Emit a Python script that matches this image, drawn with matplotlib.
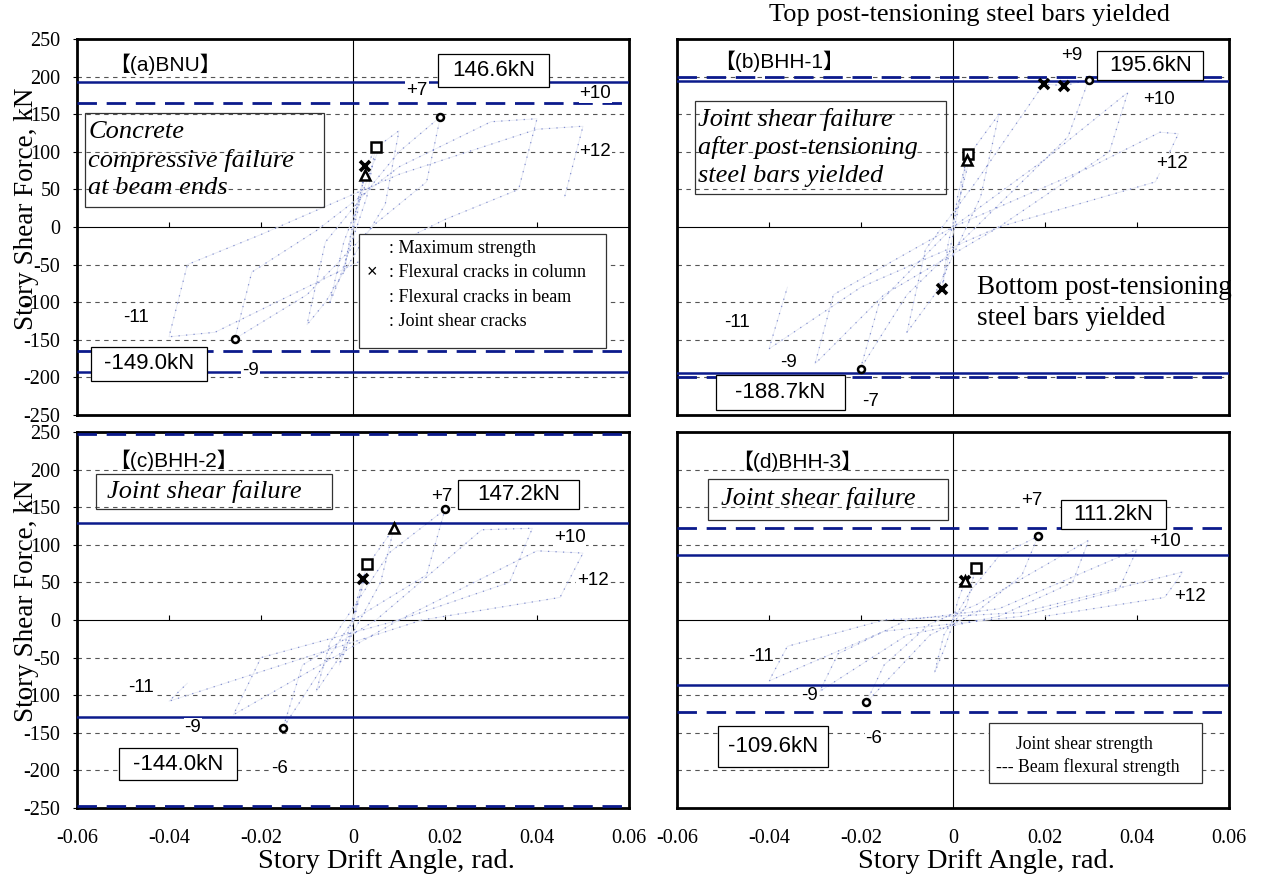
import matplotlib
matplotlib.use("Agg")
import matplotlib.pyplot as plt
from matplotlib.patches import Rectangle

SERIF = ['Liberation Serif', 'DejaVu Serif']
SANS = ['Liberation Sans', 'Noto Sans CJK JP', 'DejaVu Sans']

# ---------------- data ----------------
x_ticks = [-0.06, -0.04, -0.02, 0, 0.02, 0.04, 0.06]
x_tick_labels = ['-0.06', '-0.04', '-0.02', '0', '0.02', '0.04', '0.06']
y_ticks = [-250, -200, -150, -100, -50, 0, 50, 100, 150, 200, 250]
grid_levels = [-200, -150, -100, -50, 50, 100, 150, 200]
inner_ticks = [-0.04, -0.02, 0.02, 0.04]

panel_titles = ['【(a)BNU】', '【(b)BHH-1】', '【(c)BHH-2】', '【(d)BHH-3】']
joint_shear_strength = [193, 194, 129, 86]     # solid lines (+/-)
beam_flexural_strength = [165, 200, 247, 123]  # dashed lines (+/-)

max_pos_drift = [0.019, 0.0295, 0.020, 0.0185]
max_pos_force = [146.6, 195.6, 147.2, 111.2]
max_neg_drift = [-0.0257, -0.0201, -0.0152, -0.0189]
max_neg_force = [-149.0, -188.7, -144.0, -109.6]
max_pos_label = ['146.6kN', '195.6kN', '147.2kN', '111.2kN']
max_neg_label = ['-149.0kN', '-188.7kN', '-144.0kN', '-109.6kN']

col_crack_drift = [[0.0027], [0.0197, 0.0242, -0.0024], [0.0022], [0.0027]]
col_crack_force = [[80.8], [190, 188, -82], [55], [52]]
beam_crack_drift = [0.0049, 0.0032, 0.0030, 0.0049]
beam_crack_force = [106, 97, 74, 69.5]
joint_crack_drift = [0.0025, 0.0030, 0.0089, 0.0027]
joint_crack_force = [68.8, 88.5, 122, 51.8]

# hysteresis paths (story drift angle, story shear force)
drift_a = [0, 0.001, 0.0025, 0.001, -0.001, -0.002, -0.0005, 0.003, 0.0049, 0.003, -0.003, -0.005,
           -0.002, 0.006, 0.010, 0.007, -0.006, -0.010, -0.006, 0.010, 0.019, 0.016, 0.005, -0.010,
           -0.0257, -0.022, -0.008, 0.010, 0.030, 0.040, 0.036, 0.020, -0.010, -0.030, -0.040,
           -0.036, -0.020, 0.010, 0.040, 0.050, 0.046]
force_a = [0, 35, 68.8, 20, -30, -60, -10, 80, 106, 40, -70, -100, -20, 110, 128, 30, -100, -130,
           -20, 100, 146.6, 60, 5, -90, -148.7, -60, -5, 80, 140, 144, 50, 10, -80, -140, -146,
           -50, -10, 70, 130, 134, 40]
drift_b = [0, 0.001, 0.003, 0.001, -0.001, -0.0024, -0.001, 0.004, 0.010, 0.006, -0.004, -0.010,
           -0.006, 0.005, 0.0197, 0.0242, 0.0295, 0.025, 0.005, -0.010, -0.0201, -0.016, 0.000,
           0.020, 0.038, 0.034, 0.010, -0.015, -0.030, -0.026, 0.000, 0.030, 0.045, 0.049, 0.044,
           0.010, -0.020, -0.040, -0.036]
force_b = [0, 40, 92, 20, -40, -82, -20, 100, 150, 40, -90, -140, -30, 60, 190, 188, 195.6, 120,
           0, -90, -188, -100, 0, 90, 179, 100, 0, -90, -182, -90, 0, 80, 126, 124, 60, 0, -80,
           -162, -80]
drift_c = [0, 0.001, 0.0022, 0.003, 0.001, -0.001, -0.003, -0.001, 0.004, 0.0089, 0.006, -0.003,
           -0.008, -0.005, 0.008, 0.020, 0.016, 0.000, -0.0152, -0.011, 0.005, 0.028, 0.039, 0.034,
           0.010, -0.026, -0.020, 0.010, 0.040, 0.050, 0.045, 0.015, -0.040, -0.036]
force_c = [0, 30, 55, 74, 20, -30, -60, -15, 80, 122, 50, -50, -95, -30, 90, 147, 60, 0, -143.4,
           -60, 0, 120, 122, 50, 0, -126, -50, 0, 92, 89, 30, 0, -108, -84]
drift_d = [0, 0.001, 0.0027, 0.0049, 0.003, 0.000, -0.002, -0.004, -0.002, 0.000, 0.004, 0.010,
           0.0185, 0.015, 0.005, -0.005, -0.0189, -0.015, -0.005, 0.005, 0.0295, 0.026, 0.010,
           -0.010, -0.029, -0.025, -0.010, 0.010, 0.040, 0.036, 0.015, -0.015, -0.040, -0.036,
           -0.015, 0.015, 0.050, 0.046, 0.020]
force_d = [0, 25, 52, 69.5, 20, -5, -40, -70, -20, 0, 40, 85, 111.5, 60, 10, -20, -110, -60, -5,
           20, 106, 50, 5, -20, -95, -45, 0, 15, 94, 40, 5, -15, -81, -35, 0, 10, 64, 30, 5]
drifts = [drift_a, drift_b, drift_c, drift_d]
forces = [force_a, force_b, force_c, force_d]

cycle_text = [['+7', '+10', '+12', '-11', '-9'],
              ['+9', '+10', '+12', '-11', '-9', '-7'],
              ['+7', '+10', '+12', '-11', '-9', '-6'],
              ['+7', '+10', '+12', '-11', '-9', '-6']]
cycle_x = [[0.0139, 0.0527, 0.0527, -0.0471, -0.0223],
           [0.0258, 0.0447, 0.0477, -0.0469, -0.0358, -0.018],
           [0.0192, 0.0471, 0.0521, -0.0461, -0.0348, -0.0159],
           [0.0171, 0.0461, 0.0515, -0.0417, -0.0313, -0.0172]]
cycle_y = [[181, 177, 101, -121, -191],
           [228, 169, 84, -127, -180, -232],
           [164, 110, 52, -90, -143, -197],
           [159, 105, 31, -48, -101, -158]]

failure_text = ['Concrete\ncompressive failure\nat beam ends',
                'Joint shear failure\nafter post-tensioning\nsteel bars yielded',
                'Joint shear failure', 'Joint shear failure']

legend_lines = [': Maximum strength', ': Flexural cracks in column',
                ': Flexural cracks in beam', ': Joint shear cracks']
legend2_lines = ['Joint shear strength', '--- Beam flexural strength']

# ---------------- layout ----------------
fig = plt.figure(figsize=(12.62, 8.77), dpi=100)
W, H = 1262, 877
lefts = [77, 677, 77, 677]
tops = [39, 39, 432, 432]
aw, ah = 552, 376
axes = []
for i in range(4):
    ax = fig.add_axes([lefts[i] / W, 1 - (tops[i] + ah) / H, aw / W, ah / H])
    axes.append(ax)

NAVY = '#0b1a8c'
for i, ax in enumerate(axes):
    ax.set_xlim(-0.06, 0.06)
    ax.set_ylim(-250, 250)
    for s in ax.spines.values():
        s.set_linewidth(2.0)
        s.set_color('black')
    ax.set_yticks(y_ticks)
    ax.set_xticks(x_ticks)
    ax.tick_params(axis='x', length=0, pad=15)
    ax.tick_params(axis='y', length=3, width=0.8, direction='out', pad=9)
    if i in (0, 2):
        ax.set_yticklabels([str(v) for v in y_ticks], fontsize=14.5, family=SERIF)
    else:
        ax.set_yticklabels([])
        ax.tick_params(axis='y', length=0)
    if i in (2, 3):
        ax.set_xticklabels(x_tick_labels, fontsize=14.5, family=SERIF)
    else:
        ax.set_xticklabels([])

    for g in grid_levels:
        ax.axhline(g, color='#555555', lw=0.8, ls=(0, (4, 4)), zorder=1)
    ax.axhline(0, color='black', lw=0.8, zorder=2)
    ax.axvline(0, color='black', lw=0.8, zorder=2)
    ax.vlines(inner_ticks, 0, 6, color='black', lw=0.8, zorder=2)

    # hysteresis (faint, dotted)
    ax.plot(drifts[i], forces[i], color='#e6e9f4', lw=0.6, zorder=2)
    ax.plot(drifts[i], forces[i], color='#2a3fb0', lw=0.9, ls=(0, (1, 5)), alpha=0.55, zorder=2)

    # strength lines
    js, bf = joint_shear_strength[i], beam_flexural_strength[i]
    ax.axhline(js, color=NAVY, lw=1.8, zorder=3)
    ax.axhline(-js, color=NAVY, lw=1.8, zorder=3)
    ax.axhline(bf, color=NAVY, lw=2.0, ls=(0, (7, 3.5)), zorder=3)
    ax.axhline(-bf, color=NAVY, lw=2.0, ls=(0, (7, 3.5)), zorder=3)

    # markers
    ax.plot([max_pos_drift[i], max_neg_drift[i]], [max_pos_force[i], max_neg_force[i]],
            ls='none', marker='o', ms=5, mfc='white', mec='black', mew=1.8, zorder=6)
    ax.plot(col_crack_drift[i], col_crack_force[i], ls='none', marker='x', ms=7,
            mec='black', mew=2.6, zorder=6)
    ax.plot([beam_crack_drift[i]], [beam_crack_force[i]], ls='none', marker='s', ms=7,
            mfc='white', mec='black', mew=1.8, zorder=6)
    ax.plot([joint_crack_drift[i]], [joint_crack_force[i]], ls='none', marker='^', ms=7,
            mfc='white', mec='black', mew=1.8, zorder=6)

    # panel title
    ax.text([-0.053, -0.052, -0.053, -0.048][i], [217, 221, 213, 211][i], panel_titles[i],
            fontsize=15, family=SANS, va='center', ha='left', zorder=7)

    # cycle labels
    for t, cx, cy in zip(cycle_text[i], cycle_x[i], cycle_y[i]):
        ax.text(cx, cy, t, fontsize=13.5, family=SANS, ha='center', va='center', zorder=5,
                bbox=dict(boxstyle='square,pad=0.05', fc='white', ec='none'))

# value boxes  (x0, y0, x1, y1)
pos_box = [(0.0185, 186.6, 0.0427, 230), (0.0314, 195.3, 0.0544, 234.5),
           (0.0229, 147, 0.0492, 186.6), (0.0235, 121.5, 0.0462, 159.6)]
neg_box = [(-0.0569, -204.5, -0.0318, -159), (-0.0515, -244, -0.0235, -197),
           (-0.0509, -213, -0.0253, -170), (-0.0510, -196, -0.0271, -141)]
for i, ax in enumerate(axes):
    for (x0, y0, x1, y1), lab in ((pos_box[i], max_pos_label[i]), (neg_box[i], max_neg_label[i])):
        ax.add_patch(Rectangle((x0, y0), x1 - x0, y1 - y0, fc='white', ec='black', lw=0.9, zorder=8))
        ax.text((x0 + x1) / 2, (y0 + y1) / 2, lab, fontsize=16, family=SANS, ha='center',
                va='center', zorder=9)

# failure text boxes
fail_rect = [(-0.0582, 26, 0.0518, 126), (-0.056, 44, 0.0544, 124),
             (-0.0559, 147, 0.0514, 47), (-0.0533, 133.6, 0.0522, 54.4)]
fail_text_xy = [(-0.0575, 89), (-0.0555, 106), (-0.0535, 170.5), (-0.0505, 161)]
for i, ax in enumerate(axes):
    x0, y0, w, h = fail_rect[i]
    ax.add_patch(Rectangle((x0, y0), w, h, fc='none', ec='#333333', lw=0.9, zorder=7))
    ax.text(*fail_text_xy[i], failure_text[i], fontsize=19, family=SERIF, style='italic',
            ha='left', va='center', linespacing=1.3, zorder=8)

# legend box (a)
ax = axes[0]
ax.add_patch(Rectangle((0.0014, -160.7), 0.0537, 150.9, fc='white', ec='#333333', lw=0.9, zorder=8))
for t, ly in zip(legend_lines, [-29, -61, -94, -126]):
    ax.text(0.0078, ly, t, fontsize=13, family=SERIF, ha='left', va='center', zorder=9)
ax.text(0.0041, -61, '×', fontsize=13, family=SANS, ha='center', va='center', zorder=9)

# legend box (d)
ax = axes[3]
ax.add_patch(Rectangle((0.0079, -216.8), 0.0463, 79.2, fc='white', ec='#333333', lw=0.9, zorder=8))
ax.text(0.0136, -166, legend2_lines[0], fontsize=12.7, family=SERIF, ha='left', va='center', zorder=9)
ax.text(0.0093, -195, legend2_lines[1], fontsize=12.7, family=SERIF, ha='left', va='center', zorder=9)

# annotations in (b)
axes[1].text(0.0052, -101, 'Bottom post-tensioning\nsteel bars yielded', fontsize=19.5,
             family=SERIF, ha='left', va='center', linespacing=1.3, zorder=8, clip_on=False)
fig.text(969 / W, 1 - 15 / H, 'Top post-tensioning steel bars yielded', fontsize=19,
         family=SERIF, ha='center', va='center')

# axis labels
for cx in (353 + 33, 953 + 33):
    fig.text(cx / W, 1 - 862 / H, 'Story Drift Angle, rad.', fontsize=20.5, family=SERIF,
             ha='center', va='center')
for cy in (209, 601):
    fig.text(27 / W, 1 - cy / H, 'Story Shear Force, kN', rotation=90, fontsize=19.5,
             family=SERIF, ha='center', va='center')

fig.savefig('out.png', dpi=100)
